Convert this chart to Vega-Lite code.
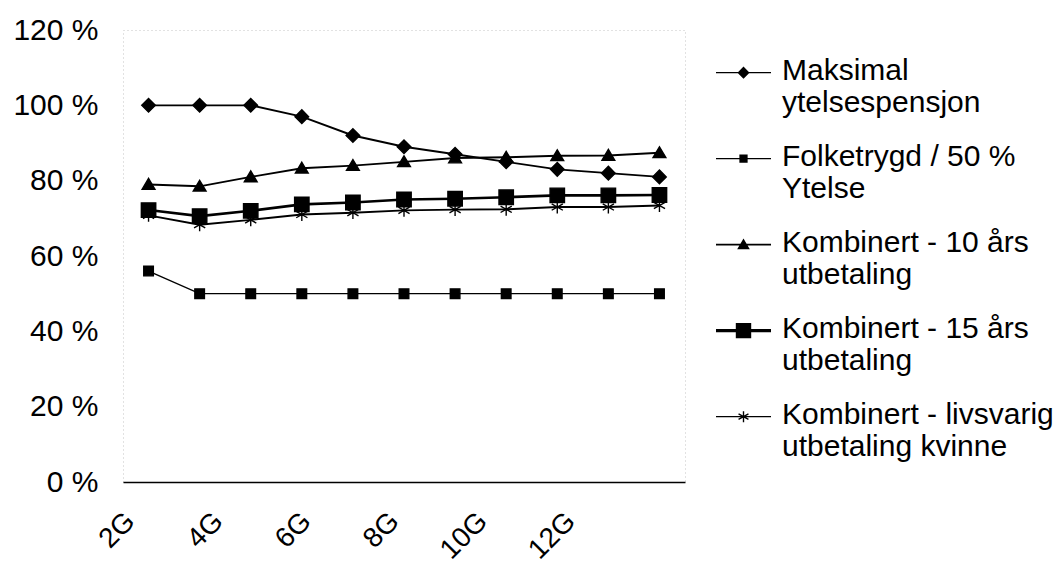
{
  "$schema": "https://vega.github.io/schema/vega-lite/v6.json",
  "width": 562,
  "height": 452,
  "autosize": {"type": "none"},
  "padding": {"left": 123, "top": 30, "right": 373, "bottom": 83},
  "background": "white",
  "config": {
    "font": "Liberation Sans",
    "view": {"stroke": "#c4c4c4", "strokeDash": [1, 3], "strokeWidth": 1}
  },
  "datasets": {
    "series": [
      {"serie": "Folketrygd / 50 % Ytelse", "x": "2G", "v": 56},
      {"serie": "Folketrygd / 50 % Ytelse", "x": "3G", "v": 50},
      {"serie": "Folketrygd / 50 % Ytelse", "x": "4G", "v": 50},
      {"serie": "Folketrygd / 50 % Ytelse", "x": "5G", "v": 50},
      {"serie": "Folketrygd / 50 % Ytelse", "x": "6G", "v": 50},
      {"serie": "Folketrygd / 50 % Ytelse", "x": "7G", "v": 50},
      {"serie": "Folketrygd / 50 % Ytelse", "x": "8G", "v": 50},
      {"serie": "Folketrygd / 50 % Ytelse", "x": "9G", "v": 50},
      {"serie": "Folketrygd / 50 % Ytelse", "x": "10G", "v": 50},
      {"serie": "Folketrygd / 50 % Ytelse", "x": "11G", "v": 50},
      {"serie": "Folketrygd / 50 % Ytelse", "x": "12G", "v": 50},
      {"serie": "Kombinert - livsvarig utbetaling kvinne", "x": "2G", "v": 70.8},
      {"serie": "Kombinert - livsvarig utbetaling kvinne", "x": "3G", "v": 68.3},
      {"serie": "Kombinert - livsvarig utbetaling kvinne", "x": "4G", "v": 69.6},
      {"serie": "Kombinert - livsvarig utbetaling kvinne", "x": "5G", "v": 71},
      {"serie": "Kombinert - livsvarig utbetaling kvinne", "x": "6G", "v": 71.5},
      {"serie": "Kombinert - livsvarig utbetaling kvinne", "x": "7G", "v": 72.1},
      {"serie": "Kombinert - livsvarig utbetaling kvinne", "x": "8G", "v": 72.3},
      {"serie": "Kombinert - livsvarig utbetaling kvinne", "x": "9G", "v": 72.4},
      {"serie": "Kombinert - livsvarig utbetaling kvinne", "x": "10G", "v": 73},
      {"serie": "Kombinert - livsvarig utbetaling kvinne", "x": "11G", "v": 73},
      {"serie": "Kombinert - livsvarig utbetaling kvinne", "x": "12G", "v": 73.4},
      {"serie": "Kombinert - 10 års utbetaling", "x": "2G", "v": 79},
      {"serie": "Kombinert - 10 års utbetaling", "x": "3G", "v": 78.5},
      {"serie": "Kombinert - 10 års utbetaling", "x": "4G", "v": 81},
      {"serie": "Kombinert - 10 års utbetaling", "x": "5G", "v": 83.3},
      {"serie": "Kombinert - 10 års utbetaling", "x": "6G", "v": 84},
      {"serie": "Kombinert - 10 års utbetaling", "x": "7G", "v": 85},
      {"serie": "Kombinert - 10 års utbetaling", "x": "8G", "v": 86},
      {"serie": "Kombinert - 10 års utbetaling", "x": "9G", "v": 86.2},
      {"serie": "Kombinert - 10 års utbetaling", "x": "10G", "v": 86.6},
      {"serie": "Kombinert - 10 års utbetaling", "x": "11G", "v": 86.7},
      {"serie": "Kombinert - 10 års utbetaling", "x": "12G", "v": 87.4},
      {"serie": "Maksimal ytelsespensjon", "x": "2G", "v": 100},
      {"serie": "Maksimal ytelsespensjon", "x": "3G", "v": 100},
      {"serie": "Maksimal ytelsespensjon", "x": "4G", "v": 100},
      {"serie": "Maksimal ytelsespensjon", "x": "5G", "v": 97},
      {"serie": "Maksimal ytelsespensjon", "x": "6G", "v": 92},
      {"serie": "Maksimal ytelsespensjon", "x": "7G", "v": 89},
      {"serie": "Maksimal ytelsespensjon", "x": "8G", "v": 87},
      {"serie": "Maksimal ytelsespensjon", "x": "9G", "v": 85},
      {"serie": "Maksimal ytelsespensjon", "x": "10G", "v": 83},
      {"serie": "Maksimal ytelsespensjon", "x": "11G", "v": 82},
      {"serie": "Maksimal ytelsespensjon", "x": "12G", "v": 81},
      {"serie": "Kombinert - 15 års utbetaling", "x": "2G", "v": 72.2},
      {"serie": "Kombinert - 15 års utbetaling", "x": "3G", "v": 70.6},
      {"serie": "Kombinert - 15 års utbetaling", "x": "4G", "v": 72},
      {"serie": "Kombinert - 15 års utbetaling", "x": "5G", "v": 73.7},
      {"serie": "Kombinert - 15 års utbetaling", "x": "6G", "v": 74.2},
      {"serie": "Kombinert - 15 års utbetaling", "x": "7G", "v": 75},
      {"serie": "Kombinert - 15 års utbetaling", "x": "8G", "v": 75.2},
      {"serie": "Kombinert - 15 års utbetaling", "x": "9G", "v": 75.6},
      {"serie": "Kombinert - 15 års utbetaling", "x": "10G", "v": 76.1},
      {"serie": "Kombinert - 15 års utbetaling", "x": "11G", "v": 76.1},
      {"serie": "Kombinert - 15 års utbetaling", "x": "12G", "v": 76.2}
    ],
    "xlabels": [
      {"lab": "2G"}, {"lab": "4G"}, {"lab": "6G"}, {"lab": "8G"}, {"lab": "10G"}, {"lab": "12G"}
    ]
  },
  "layer": [
    {
      "data": {"name": "series"},
      "encoding": {
        "x": {
          "field": "x",
          "type": "ordinal",
          "scale": {"type": "point", "padding": 0.5, "domain": ["2G", "3G", "4G", "5G", "6G", "7G", "8G", "9G", "10G", "11G", "12G"]},
          "axis": {"labels": false, "ticks": false, "domain": true, "domainColor": "black", "domainWidth": 1.5, "title": null, "grid": false}
        },
        "y": {
          "field": "v",
          "type": "quantitative",
          "scale": {"domain": [0, 120], "nice": false},
          "axis": {
            "values": [0, 20, 40, 60, 80, 100, 120],
            "labelExpr": "datum.value + ' %'",
            "title": null,
            "domain": false,
            "ticks": false,
            "grid": false,
            "labelPadding": 25,
            "labelFontSize": 30,
            "labelFont": "Liberation Sans",
            "labelColor": "black"
          }
        }
      },
      "layer": [
        {
          "transform": [{"filter": "datum.serie !== 'Kombinert - 15 års utbetaling' && datum.serie !== 'Folketrygd / 50 % Ytelse'"}],
          "mark": {"type": "line", "color": "black", "strokeWidth": 1.9},
          "encoding": {"detail": {"field": "serie", "type": "nominal"}}
        },
        {
          "transform": [{"filter": "datum.serie === 'Folketrygd / 50 % Ytelse'"}],
          "mark": {"type": "line", "color": "black", "strokeWidth": 1.4},
          "encoding": {"detail": {"field": "serie", "type": "nominal"}}
        },
        {
          "transform": [{"filter": "datum.serie === 'Kombinert - 15 års utbetaling'"}],
          "mark": {"type": "line", "color": "black", "strokeWidth": 2.6},
          "encoding": {"detail": {"field": "serie", "type": "nominal"}}
        },
        {
          "mark": {"type": "point", "filled": true, "color": "black", "stroke": "black", "strokeWidth": 1.4, "size": 256, "opacity": 1},
          "encoding": {
            "shape": {
              "field": "serie",
              "type": "nominal",
              "scale": {
                "domain": ["Maksimal ytelsespensjon", "Folketrygd / 50 % Ytelse", "Kombinert - 10 års utbetaling", "Kombinert - 15 års utbetaling", "Kombinert - livsvarig utbetaling kvinne"],
                "range": [
                  "M0,-0.85L0.85,0L0,0.85L-0.85,0Z",
                  "M-0.6,-0.6H0.6V0.6H-0.6Z",
                  "M0,-0.75L0.8,0.6L-0.8,0.6Z",
                  "M-0.9,-0.9H0.9V0.9H-0.9Z",
                  "M0,-0.8V0.8M-0.7,-0.4L0.7,0.4M-0.7,0.4L0.7,-0.4"
                ]
              },
              "legend": null
            }
          }
        },
        {
          "mark": {"type": "point", "fill": "black", "stroke": "black", "strokeWidth": 1.6, "size": 3025, "opacity": 0},
          "encoding": {
            "shape": {
              "field": "serie",
              "type": "nominal",
              "scale": {
                "domain": ["Maksimal ytelsespensjon", "Folketrygd / 50 % Ytelse", "Kombinert - 10 års utbetaling", "Kombinert - 15 års utbetaling", "Kombinert - livsvarig utbetaling kvinne"],
                "range": [
                  "M-1,-0.277H1V-0.223H-1ZM0,-0.47L0.22,-0.25L0,-0.03L-0.22,-0.25Z",
                  "M-1,-0.272H1V-0.228H-1ZM-0.15,-0.4H0.15V-0.1H-0.15Z",
                  "M-1,-0.285H1V-0.215H-1ZM0,-0.47L0.23,-0.08L-0.23,-0.08Z",
                  "M-1,-0.305H1V-0.195H-1ZM-0.28,-0.53H0.28V0.03H-0.28Z",
                  "M-1,-0.275H1V-0.225H-1ZM-0.025,-0.45H0.025V-0.05H-0.025ZM-0.168,-0.372L0.192,-0.172L0.168,-0.128L-0.192,-0.328ZM-0.192,-0.172L0.168,-0.372L0.192,-0.328L-0.168,-0.128Z"
                ]
              },
              "legend": {
                "title": null,
                "orient": "none",
                "legendX": 592,
                "legendY": 21,
                "padding": 0,
                "symbolSize": 3025,
                "symbolFillColor": "black",
                "symbolStrokeColor": "black",
                "symbolStrokeWidth": 1.6,
                "symbolOpacity": 1,
                "labelFont": "Liberation Sans",
                "labelFontSize": 30,
                "labelColor": "black",
                "labelLimit": 400,
                "labelOffset": 10,
                "labelBaseline": "alphabetic",
                "rowPadding": 19,
                "labelExpr": "split(replace(replace(replace(datum.label, ' ytelsespensjon', '|ytelsespensjon'), ' Ytelse', '|Ytelse'), ' utbetaling', '|utbetaling'), '|')"
              }
            }
          }
        }
      ],
      "resolve": {"scale": {"shape": "independent"}, "legend": {"shape": "independent"}}
    },
    {
      "data": {"name": "xlabels"},
      "mark": {"type": "point", "opacity": 0},
      "encoding": {
        "x": {
          "field": "lab",
          "type": "ordinal",
          "scale": {"type": "point", "padding": 0.69, "align": 0.06, "domain": ["2G", "4G", "6G", "8G", "10G", "12G"]},
          "axis": {
            "orient": "bottom",
            "title": null,
            "domain": false,
            "ticks": false,
            "grid": false,
            "labelAngle": -45,
            "labelAlign": "right",
            "labelBaseline": "middle",
            "labelPadding": 35,
            "labelFontSize": 28,
            "labelFont": "Liberation Sans",
            "labelColor": "black",
            "labelOverlap": false,
            "labelBound": false
          }
        }
      }
    }
  ],
  "resolve": {"scale": {"x": "independent"}, "axis": {"x": "independent"}}
}
